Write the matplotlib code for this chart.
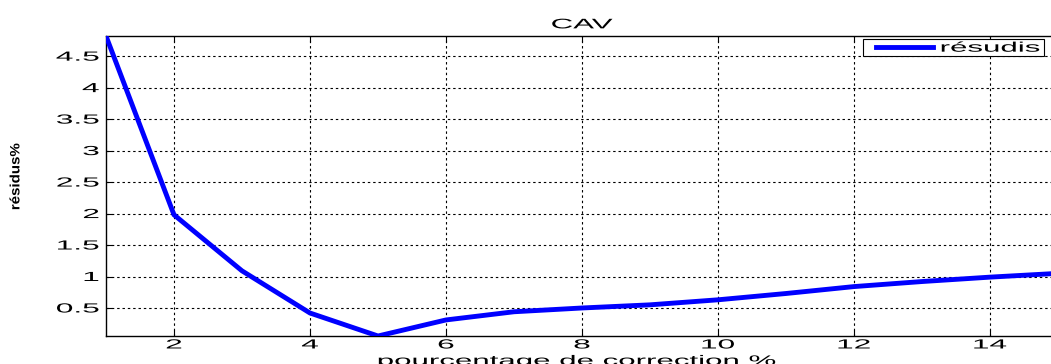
import matplotlib
matplotlib.use("Agg")
import matplotlib.pyplot as plt
from matplotlib.patheffects import AbstractPathEffect
from matplotlib.transforms import Affine2D
from matplotlib.legend_handler import HandlerLine2D

# Residual (%) against correction percentage
correction = [1, 2, 3, 4, 5, 6, 7, 8, 9, 10, 11, 12, 13, 14, 15]
residus = [4.82, 1.98, 1.09, 0.42, 0.055, 0.31, 0.44, 0.50, 0.55, 0.63,
           0.73, 0.84, 0.92, 0.99, 1.05]

xticks = [2, 4, 6, 8, 10, 12, 14]
xtick_labels = ["2", "4", "6", "8", "10", "12", "14"]
yticks = [0.5, 1, 1.5, 2, 2.5, 3, 3.5, 4, 4.5]
ytick_labels = ["0.5", "1", "1.5", "2", "2.5", "3", "3.5", "4", "4.5"]

title = "CAV"
xlabel = "pourcentage de correction %"
ylabel = "résidus%"
series_label = "résudis"


class Widen(AbstractPathEffect):
    """Draw text glyphs stretched along (sx) and across (sy) the baseline."""

    def __init__(self, sx=2.25, sy=1.0, anchor=0.5):
        super().__init__()
        self.sx, self.sy, self.anchor = sx, sy, anchor

    def draw_path(self, renderer, gc, tpath, affine, rgbFace=None):
        ext = tpath.get_extents()
        x0 = ext.x0 + self.anchor * ext.width
        y0 = ext.y0 + 0.5 * ext.height
        pre = (Affine2D().translate(-x0, -y0)
               .scale(self.sx, self.sy).translate(x0, y0))
        renderer.draw_path(gc, tpath, pre + affine, rgbFace)


plt.rcParams["font.family"] = ["Liberation Sans", "DejaVu Sans"]

W, H = 1051, 364
fig = plt.figure(figsize=(W / 100, H / 100), dpi=100)
fig.patch.set_facecolor("white")
ax = fig.add_axes([106 / W, 28 / H, 952 / W, 300 / H])

line, = ax.plot(correction, residus, color="#0000ff", lw=3.5,
                solid_joinstyle="miter", zorder=3, label=series_label)

ax.set_xlim(min(correction), max(correction))
ax.set_ylim(min(residus), max(residus))

ax.set_xticks(xticks)
ax.set_xticklabels(xtick_labels)
ax.set_yticks(yticks)
ax.set_yticklabels(ytick_labels)

ax.grid(True, color="black", linestyle=(0, (2.2, 2.6)), linewidth=0.8)
ax.set_axisbelow(True)

ax.tick_params(axis="both", direction="in", top=True, right=True,
               length=4.5, width=0.8, colors="black", labelsize=9.5)
ax.tick_params(axis="x", pad=2.5)
ax.tick_params(axis="y", pad=5)

for spine in ax.spines.values():
    spine.set_linewidth(1.0)
    spine.set_color("black")

for t in ax.xaxis.get_major_ticks():
    t.label1.set_path_effects([Widen(2.4, anchor=0.5)])
for t in ax.yaxis.get_major_ticks():
    t.label1.set_path_effects([Widen(2.4, anchor=1.0)])

ttl = ax.set_title(title, fontsize=10, pad=5.5)
ttl.set_path_effects([Widen(2.25, anchor=0.5)])

xl = ax.set_xlabel(xlabel, fontsize=10)
xl.set_va("baseline")
ax.xaxis.set_label_coords(0.495, -29 / 300)
xl.set_path_effects([Widen(2.25, anchor=0.5)])

yl = fig.text(15 / W, 1 - 176.5 / H, ylabel, rotation=90, fontsize=7,
              fontweight="bold", ha="center", va="center")
yl.set_path_effects([Widen(1.55, 1.4, anchor=0.5)])

leg = ax.legend(handles=[line], loc="upper left",
                bbox_to_anchor=((863 - 106) / 952, 0.5, 181 / 952, 0.49),
                mode="expand", borderaxespad=0, borderpad=0.12,
                handlelength=4.9, handletextpad=0.58, fontsize=10,
                fancybox=False, framealpha=1, shadow=False,
                handler_map={line: HandlerLine2D(xpad=0.81)})
leg.get_frame().set_edgecolor("black")
leg.get_frame().set_linewidth(0.8)
for txt in leg.get_texts():
    txt.set_path_effects([Widen(2.25, anchor=0.0)])

fig.savefig("out.png", dpi=100, facecolor="white")
